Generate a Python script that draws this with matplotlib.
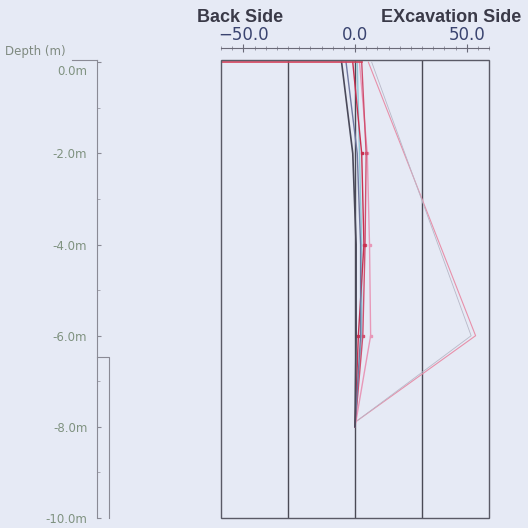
import matplotlib
matplotlib.use("Agg")
import matplotlib.pyplot as plt
import matplotlib.transforms as mtransforms
from matplotlib.patches import Rectangle
from matplotlib.ticker import MultipleLocator

# ---- data ----
depths = [0.0, -2.0, -4.0, -6.0, -8.0]
series_dark = [-6.0, -1.0, 0.5, 0.5, 0.0]
series_slate = [-4.0, 1.0, 2.5, 2.5, 0.0]
series_red1 = [-1.0, 3.0, 4.0, 1.5, 0.0]
series_cyan = [1.0, 2.0, 3.0, 3.0, 0.0]
series_red2 = [3.0, 5.0, 4.5, 3.5, 0.0]
series_pink = [2.0, 5.5, 6.5, 7.0, 0.0]
pressure_depths = [0.0, -6.0, -7.9]
pressure_pink = [6.0, 54.0, 0.0]
pressure_gray = [7.5, 52.0, 0.0]
surface_x = [-60.0, 3.0]
surface_depth = [0.0, 0.0]
xticks = [-50.0, 0.0, 50.0]
grid_x = [-30.0, 0.0, 30.0]
depth_ticks = [0.0, -2.0, -4.0, -6.0, -8.0, -10.0]
wall_top = -6.47

BG = "#e6eaf5"
fig = plt.figure(figsize=(5.28, 5.28), dpi=100, facecolor=BG)

W = H = 528.0
ax = fig.add_axes([221 / W, 1 - 518 / H, (489 - 221) / W, (518 - 60) / H])
ax.set_facecolor(BG)
ax.set_xlim(-60, 60)
ax.set_ylim(-10, 0.05)

for s in ["left", "right", "bottom"]:
    ax.spines[s].set_visible(False)
ax.add_patch(Rectangle((0, 0), 1, 1, transform=ax.transAxes, fill=False,
                       edgecolor="#5a5a66", lw=1.0, clip_on=False, zorder=5))
for gx in grid_x:
    ax.axvline(gx, color="#4a4a55", lw=1.0, zorder=2)

ax.spines["top"].set_position(("outward", 8.6))
ax.spines["top"].set_color("#6a6a78")
ax.spines["top"].set_linewidth(0.8)
ax.xaxis.set_ticks_position("top")
ax.xaxis.set_label_position("top")
ax.set_xticks(xticks)
ax.set_xticklabels([f"{v:.1f}".replace("-", "\u2212") for v in xticks],
                   color="#3a4470", fontsize=12)
ax.xaxis.set_minor_locator(MultipleLocator(5))
ax.tick_params(axis="x", which="major", direction="inout", length=6, width=0.8,
               color="#6a6a78", pad=0)
ax.tick_params(axis="x", which="minor", direction="inout", length=3, width=0.6,
               color="#8a8a98")
ax.set_yticks([])

# data lines
mk = dict(marker="s", ms=2.0, markevery=[1, 2, 3])
ax.plot(surface_x, surface_depth, color="#d8405a", lw=1.2, zorder=4)
ax.plot(pressure_pink, pressure_depths, color="#e890aa", lw=0.8, zorder=3)
ax.plot(pressure_gray, pressure_depths, color="#b8b8c8", lw=0.6, zorder=3)
ax.plot(series_cyan, depths, color="#90c8d8", lw=1.0, zorder=3)
ax.plot(series_pink, depths, color="#e898b8", lw=1.0, zorder=3, **mk)
ax.plot(series_red2, depths, color="#d05070", lw=1.0, zorder=3, **mk)
ax.plot(series_red1, depths, color="#c83050", lw=1.0, zorder=3, **mk)
ax.plot(series_slate, depths, color="#7078a0", lw=1.0, zorder=3)
ax.plot(series_dark, depths, color="#4a4a5a", lw=1.2, zorder=3)

fig.text(197 / W, 1 - 18 / H, "Back Side", color="#3a3a48", fontsize=13,
         fontweight="bold", family="Liberation Sans", ha="left", va="center")
fig.text(521 / W, 1 - 18 / H, "EXcavation Side", color="#3a3a48", fontsize=13,
         fontweight="bold", family="Liberation Sans", ha="right", va="center")

# depth axis
axd = fig.add_axes([97 / W, 1 - 518 / H, 30 / W, (518 - 60) / H])
axd.set_facecolor("none")
axd.set_xlim(0, 30)
axd.set_ylim(-10, 0.05)
for s in ["top", "right", "bottom"]:
    axd.spines[s].set_visible(False)
axd.spines["left"].set_color("#8a8a95")
axd.spines["left"].set_linewidth(0.8)
axd.set_xticks([])
axd.set_yticks(depth_ticks)
axd.set_yticklabels([f"{v:.1f}m" for v in depth_ticks], color="#7f9280", fontsize=8.5)
axd.yaxis.set_minor_locator(MultipleLocator(1))
axd.tick_params(axis="y", which="major", direction="in", length=3, color="#8a8a95", pad=7)
axd.tick_params(axis="y", which="minor", direction="in", length=2, color="#9a9aa5")
first_lbl = axd.get_yticklabels()[0]
first_lbl.set_transform(first_lbl.get_transform() +
                        mtransforms.ScaledTranslation(0, -8 / 100, fig.dpi_scale_trans))
axd.plot([0, 12, 12], [wall_top, wall_top, -10], color="#8a8a95", lw=0.8, clip_on=False)
fig.add_artist(plt.Line2D([72 / W, 97 / W], [1 - 60 / H, 1 - 60 / H],
                          color="#8a8a95", lw=0.8))
fig.text(5 / W, 1 - 51 / H, "Depth (m)", color="#7f8a80", fontsize=8.5,
         ha="left", va="center")

fig.savefig("out.png", dpi=100, facecolor=BG)
